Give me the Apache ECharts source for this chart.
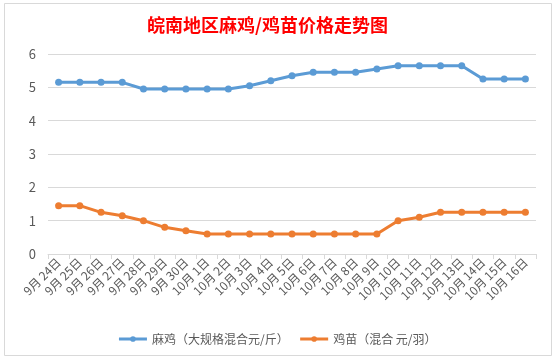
<!DOCTYPE html>
<html><head><meta charset="utf-8">
<script src="https://cdn.jsdelivr.net/npm/echarts@6/dist/echarts.min.js"></script>
<style>html,body{margin:0;padding:0;background:#fff}#c{width:554px;height:360px}</style>
</head><body><div id="c"></div>
<script>
const categories = ["9月 24日","9月 25日","9月 26日","9月 27日","9月 28日","9月 29日","9月 30日","10月 1日","10月 2日","10月 3日","10月 4日","10月 5日","10月 6日","10月 7日","10月 8日","10月 9日","10月 10日","10月 11日","10月 12日","10月 13日","10月 14日","10月 15日","10月 16日"];
const maji = [5.15,5.15,5.15,5.15,4.95,4.95,4.95,4.95,4.95,5.05,5.2,5.35,5.45,5.45,5.45,5.55,5.65,5.65,5.65,5.65,5.25,5.25,5.25];
const jimiao = [1.45,1.45,1.25,1.15,1.0,0.8,0.7,0.6,0.6,0.6,0.6,0.6,0.6,0.6,0.6,0.6,1.0,1.1,1.25,1.25,1.25,1.25,1.25];
const seriesNames = ["麻鸡（大规格混合元/斤）","鸡苗（混合 元/羽）"];
const titleText = "皖南地区麻鸡/鸡苗价格走势图";

const font = '"Noto Sans CJK SC", "Noto Sans", sans-serif';
const chart = echarts.init(document.getElementById('c'), null, {renderer:'canvas'});
chart.setOption({
  animation:false,
  backgroundColor:'#fff',
  graphic:[{type:'rect',shape:{x:4.5,y:3.5,width:547,height:352},style:{fill:'none',stroke:'#d9d9d9',lineWidth:1},silent:true,z:-1}],
  title:{text:titleText,left:142,top:11,textStyle:{color:'#ff0000',fontSize:18,fontWeight:'bold',fontFamily:font}},
  legend:{bottom:10,left:'center',itemWidth:28,itemHeight:7,itemGap:10,
    lineStyle:{width:3},
    textStyle:{color:'#595959',fontSize:12,fontFamily:font},data:seriesNames},
  grid:{left:48,right:18,top:54,bottom:106,containLabel:false},
  xAxis:{type:'category',data:categories,boundaryGap:true,
    axisLine:{lineStyle:{color:'#d9d9d9'}},
    axisTick:{show:true,length:5,lineStyle:{color:'#d9d9d9'}},
    axisLabel:{rotate:45,interval:0,color:'#595959',fontSize:12,fontFamily:font,margin:6}},
  yAxis:{type:'value',min:0,max:6,interval:1,
    axisLine:{show:false},axisTick:{show:false},
    axisLabel:{color:'#595959',fontSize:13,fontFamily:font,margin:12},
    splitLine:{lineStyle:{color:'#d9d9d9'}}},
  series:[
    {name:seriesNames[0],type:'line',data:maji,symbol:'circle',symbolSize:7,
     lineStyle:{color:'#5b9bd5',width:3},itemStyle:{color:'#5b9bd5'}},
    {name:seriesNames[1],type:'line',data:jimiao,symbol:'circle',symbolSize:7,
     lineStyle:{color:'#ed7d31',width:3},itemStyle:{color:'#ed7d31'}}
  ]
});
</script></body></html>
